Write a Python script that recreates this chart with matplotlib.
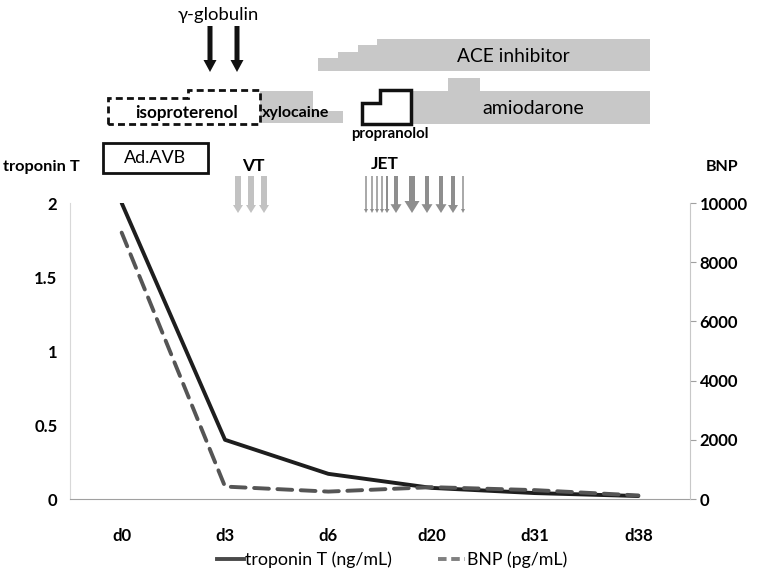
import matplotlib.pyplot as plt
from matplotlib.patches import Polygon, FancyArrow, Rectangle
from matplotlib.lines import Line2D

# data
days = ['d0', 'd3', 'd6', 'd20', 'd31', 'd38']
troponin = [2.0, 0.40, 0.17, 0.075, 0.04, 0.02]   # ng/mL
bnp = [9000, 420, 250, 400, 300, 120]              # pg/mL
trop_ticks = [0, 0.5, 1, 1.5, 2]
trop_labels = ['0', '0.5', '1', '1.5', '2']
bnp_ticks = [0, 2000, 4000, 6000, 8000, 10000]

FONT = ['Lato', 'DejaVu Sans']
plt.rcParams['font.family'] = FONT

W, H = 762, 578
fig = plt.figure(figsize=(W / 100, H / 100), dpi=100)

# main plot area
ax = fig.add_axes([70 / W, 1 - 499 / H, 620 / W, 296 / H])
x = list(range(len(days)))
ax.plot(x, troponin, color='#1e1e1e', lw=2.8, solid_capstyle='round', zorder=3)
ax.set_xlim(-0.5, len(days) - 0.5)
ax.set_ylim(0, 2)
ax.set_yticks(trop_ticks)
ax.set_yticklabels(trop_labels)
ax.set_xticks(x)
ax.set_xticklabels(days)
ax.tick_params(axis='y', length=0, pad=9, labelsize=12)
ax.tick_params(axis='x', length=0, pad=21, labelsize=12)
for lab in ax.get_xticklabels() + ax.get_yticklabels():
    lab.set_fontweight('bold')
for s in ['top', 'right']:
    ax.spines[s].set_visible(False)
ax.spines['left'].set_color('#d8d8d8')
ax.spines['bottom'].set_color('#a0a0a0')
ax.patch.set_alpha(0)

ax2 = ax.twinx()
ax2.plot(x, bnp, color='#555555', lw=2.8, linestyle=(0, (3.8, 2.2)),
         dash_capstyle='round', zorder=2)
ax2.set_ylim(0, 10000)
ax2.set_yticks(bnp_ticks)
ax2.tick_params(axis='y', length=4, color='#a0a0a0', pad=3, labelsize=12)
for lab in ax2.get_yticklabels():
    lab.set_fontweight('bold')
for s in ['top', 'left', 'bottom']:
    ax2.spines[s].set_visible(False)
ax2.spines['right'].set_color('#c8c8c8')

# legend
handles = [Line2D([], [], color='#4a4a4a', lw=2.8),
           Line2D([], [], color='#808080', lw=2.8, linestyle=(0, (2.2, 1.2)))]
fig.legend(handles, ['troponin T (ng/mL)', 'BNP (pg/mL)'], ncol=2,
           loc='center', bbox_to_anchor=(392 / W, 1 - 560 / H), frameon=False,
           fontsize=12.8, handlelength=1.5, handletextpad=0.1, columnspacing=2.6)

# annotation layer in pixel coordinates
ov = fig.add_axes([0, 0, 1, 1])
ov.set_xlim(0, W)
ov.set_ylim(H, 0)
ov.axis('off')
ov.patch.set_alpha(0)

grey = '#c8c8c8'
# ACE inhibitor staircase
ov.add_patch(Polygon([(318, 71), (318, 58), (338, 58), (338, 52), (358, 52),
                      (358, 45), (377, 45), (377, 39), (650, 39), (650, 71)],
                     closed=True, fc=grey, ec='none'))
ov.text(513, 56, 'ACE inhibitor', ha='center', va='center', fontsize=13.8)
# amiodarone
ov.add_patch(Polygon([(412, 124), (412, 91), (448, 91), (448, 78), (480, 78),
                      (480, 91), (650, 91), (650, 124)],
                     closed=True, fc=grey, ec='none'))
ov.text(533, 109, 'amiodarone', ha='center', va='center', fontsize=14)
# xylocaine
ov.add_patch(Polygon([(260, 123), (260, 91), (313, 91), (313, 111), (343, 111),
                      (343, 123)], closed=True, fc=grey, ec='none'))
ov.text(296, 113, 'xylocaine', ha='center', va='center', fontsize=11.5,
        fontweight='bold')
# isoproterenol (dashed outline)
ov.add_patch(Polygon([(108, 124), (108, 98), (188, 98), (188, 90), (260, 90),
                      (260, 124)], closed=True, fc='none', ec='#111111',
                     lw=2, linestyle=(0, (2.5, 1.5))))
ov.text(187, 113, 'isoproterenol', ha='center', va='center', fontsize=12.3,
        fontweight='bold')
# propranolol (solid outline)
ov.add_patch(Polygon([(362, 124), (362, 103), (380, 103), (380, 90), (411, 90),
                      (411, 124)], closed=True, fc='white', ec='#111111', lw=2.5))
ov.text(390, 134, 'propranolol', ha='center', va='center', fontsize=10.8,
        fontweight='bold')
# Ad.AVB box
ov.add_patch(Rectangle((103, 143), 105, 30, fc='none', ec='#111111', lw=2))
ov.text(155, 158, 'Ad.AVB', ha='center', va='center', fontsize=13)

# gamma-globulin arrows
ov.text(218, 15, 'γ-globulin', ha='center', va='center', fontsize=13.3,
        family=FONT)
for gx in [210, 237]:
    ov.add_patch(FancyArrow(gx, 26, 0, 46, width=5, head_width=13,
                            head_length=12, length_includes_head=True,
                            fc='#111111', ec='none'))

# VT arrows
ov.text(253, 166, 'VT', ha='center', va='center', fontsize=12.5, fontweight='bold')
for vx in [238, 251, 264]:
    ov.add_patch(FancyArrow(vx, 176, 0, 37, width=6, head_width=10,
                            head_length=8, length_includes_head=True,
                            fc='#c2c2c2', ec='none'))

# JET arrows
ov.text(385, 164, 'JET', ha='center', va='center', fontsize=12.5, fontweight='bold')
jet = [(366, 1.5, 4), (372, 1.5, 4), (377, 1.5, 4), (382, 1.5, 4), (387, 2, 5),
       (396, 4, 11), (412, 6, 15), (427, 4, 11), (441, 4, 11), (453, 4, 10),
       (463, 1.5, 4)]
for jx, sw, hw in jet:
    ov.add_patch(FancyArrow(jx, 176, 0, 37, width=sw, head_width=hw,
                            head_length=max(4, hw * 0.8),
                            length_includes_head=True, fc='#8e8e8e', ec='none'))

ov.text(3, 167, 'troponin T', ha='left', va='center', fontsize=11.8, fontweight='bold')
ov.text(722, 167, 'BNP', ha='center', va='center', fontsize=11.5, fontweight='bold')

fig.savefig('out.png', dpi=100)
